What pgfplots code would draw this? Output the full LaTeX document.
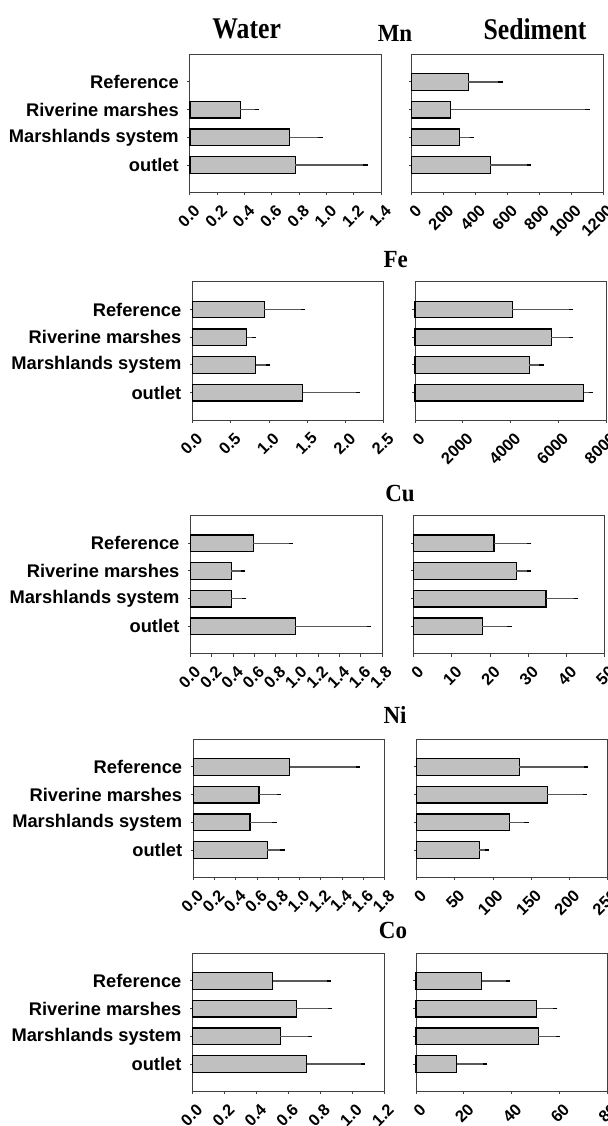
\documentclass[border=0pt]{standalone}
\usepackage{pgfplots}
\pgfplotsset{compat=1.18}
\usepackage{graphicx}
\usepackage{fontspec}
\setmainfont{Liberation Sans}
\newfontfamily\titlefont{Liberation Serif}
\definecolor{barfill}{HTML}{C0C0C0}
\pgfplotsset{
  panel/.style={
    scale only axis, width=95.65pt, height=69.2pt,
    xbar, bar width=0.6, bar shift=0pt,
    ymin=0, ymax=5, ytick={1,2,3,4}, xmin=0,
    tick align=outside, major tick length=1.3pt,
    tick pos=left,
    tick style={black!75, line width=0.5pt},
    axis line style={black!75, line width=0.5pt},
    scaled x ticks=false,
    /pgf/number format/assume math mode=true,
    xticklabel style={rotate=45, anchor=north east, font=\bfseries\fontsize{8.2}{9}\selectfont, xshift=1.5pt, yshift=-0.5pt},
    clip=false,
  },
  water/.style={
    panel,
    yticklabels={outlet, Marshlands system, Riverine marshes, Reference},
    yticklabel style={font=\bfseries\fontsize{9.15}{10}\selectfont, xshift=-0.8pt},
    /pgf/number format/fixed, /pgf/number format/fixed zerofill, /pgf/number format/precision=1,
  },
  sed/.style={
    panel,
    yticklabels={},
    /pgf/number format/1000 sep={},
  },
  bars/.style={fill=barfill, draw=black, line width=0.6pt,
    error bars/.cd, x dir=plus, x explicit,
    error bar style={black!65, line width=0.6pt},
    error mark options={black, mark size=1.1pt, line width=0.6pt}},
}
\newcommand{\ttl}[3]{\node[anchor=base, inner sep=0pt] at (#1,#2) {\scalebox{1}[1.07]{\titlefont\bfseries\fontsize{11.5}{13}\selectfont #3}};}
\begin{document}
\begin{tikzpicture}
\useasboundingbox (0,0) rectangle (304pt,563pt);
% titles
\node[anchor=base, inner sep=0pt] at (123.35pt,543.85pt) {\scalebox{1}[1.17]{\titlefont\bfseries\fontsize{12.85}{14}\selectfont Water}};
\node[anchor=base, inner sep=0pt] at (267.5pt,543.35pt) {\scalebox{1}[1.17]{\titlefont\bfseries\fontsize{12.85}{14}\selectfont Sediment}};
\ttl{197.5pt}{542.15pt}{Mn}
\ttl{197.85pt}{429pt}{Fe}
\ttl{200pt}{312.15pt}{Cu}
\ttl{197.5pt}{201pt}{Ni}
\ttl{196.5pt}{93.5pt}{Co}

% ---- Mn ----
\begin{axis}[water, at={(95pt,466.65pt)}, anchor=south west, xmax=1.4, xtick={0,0.2,...,1.4}]
\addplot[bars] table[x=v, y=c, x error=e] {
c v e
1 0.772 0.512
2 0.730 0.224
3 0.369 0.122
};
\end{axis}
\begin{axis}[sed, at={(205.85pt,466.65pt)}, anchor=south west, xmax=1200, xtick={0,200,...,1200}]
\addplot[bars] table[x=v, y=c, x error=e] {
c v e
1 493 244
2 300 78
3 244 858
4 356 200
};
\end{axis}

% ---- Fe ----
\begin{axis}[water, at={(96.3pt,352.85pt)}, anchor=south west, xmax=2.5, xtick={0,0.5,...,2.5}]
\addplot[bars] table[x=v, y=c, x error=e] {
c v e
1 1.441 0.718
2 0.825 0.163
3 0.708 0.096
4 0.937 0.509
};
\end{axis}
\begin{axis}[sed, at={(207.5pt,352.85pt)}, anchor=south west, xmax=8000, xtick={0,2000,...,8000}]
\addplot[bars] table[x=v, y=c, x error=e] {
c v e
1 7061 291
2 4777 519
3 5700 826
4 4065 2461
};
\end{axis}

% ---- Cu ----
\begin{axis}[water, at={(95.35pt,236pt)}, anchor=south west, xmax=1.8, xtick={0,0.2,...,1.8}]
\addplot[bars] table[x=v, y=c, x error=e] {
c v e
1 0.986 0.694
2 0.383 0.121
3 0.383 0.110
4 0.588 0.354
};
\end{axis}
\begin{axis}[sed, at={(206.8pt,236pt)}, anchor=south west, xmax=50, xtick={0,10,...,50}]
\addplot[bars] table[x=v, y=c, x error=e] {
c v e
1 17.95 7.1
2 34.6 7.9
3 26.8 3.3
4 21.0 9.2
};
\end{axis}

% ---- Ni ----
\begin{axis}[water, at={(96.7pt,124.15pt)}, anchor=south west, xmax=1.8, xtick={0,0.2,...,1.8}]
\addplot[bars] table[x=v, y=c, x error=e] {
c v e
1 0.694 0.146
2 0.533 0.230
3 0.617 0.186
4 0.905 0.643
};
\end{axis}
\begin{axis}[sed, at={(208.25pt,124.15pt)}, anchor=south west, xmax=250, xtick={0,50,...,250}]
\addplot[bars] table[x=v, y=c, x error=e] {
c v e
1 82.2 10.1
2 121.2 22.8
3 170.9 49.1
4 134.4 87.2
};
\end{axis}

% ---- Co ----
\begin{axis}[water, at={(96.35pt,17.15pt)}, anchor=south west, xmax=1.2, xtick={0,0.2,...,1.2}]
\addplot[bars] table[x=v, y=c, x error=e] {
c v e
1 0.715 0.353
2 0.549 0.185
3 0.649 0.212
4 0.502 0.352
};
\end{axis}
\begin{axis}[sed, at={(208pt,17.15pt)}, anchor=south west, xmax=80, xtick={0,20,...,80}]
\addplot[bars] table[x=v, y=c, x error=e] {
c v e
1 17.1 11.8
2 51.1 8.4
3 50.4 7.8
4 27.5 11.0
};
\end{axis}
\end{tikzpicture}
\end{document}
